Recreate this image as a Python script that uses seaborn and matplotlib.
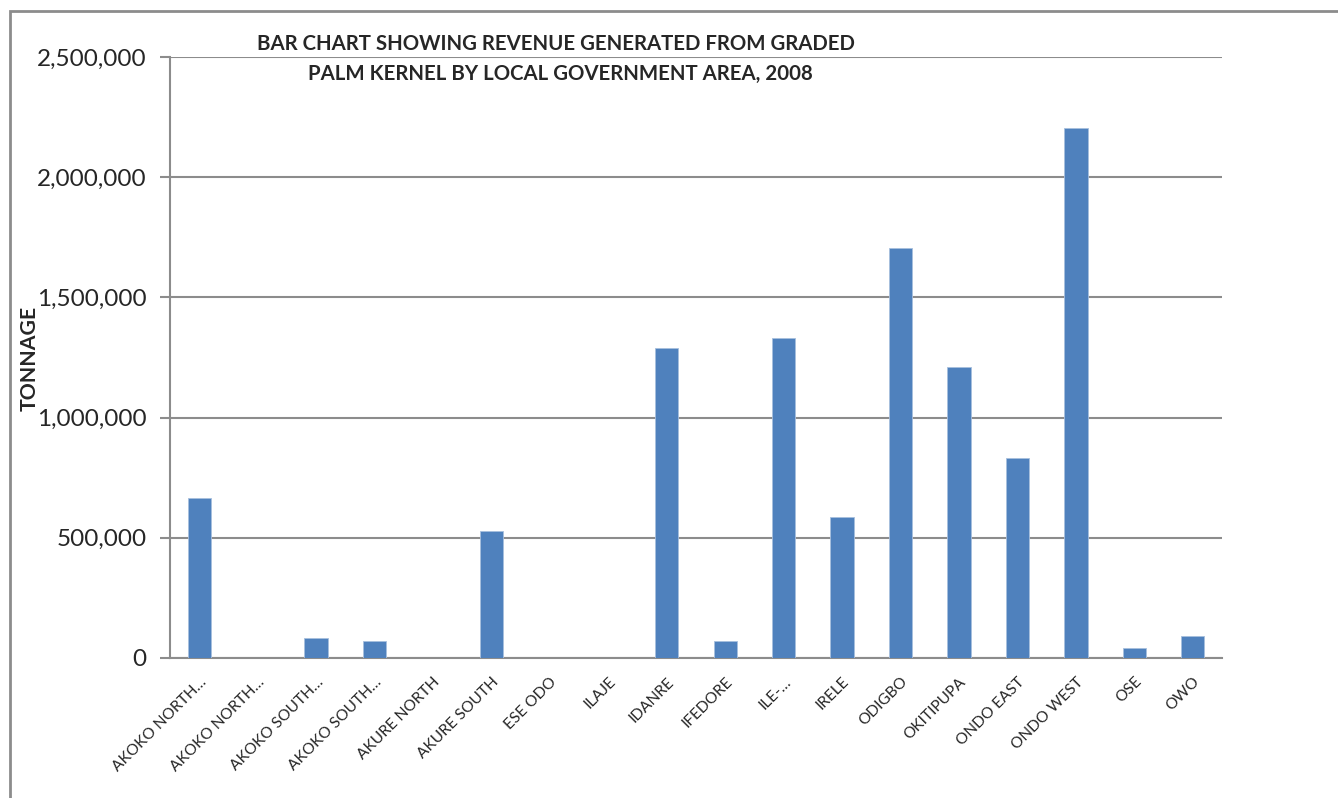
import matplotlib
matplotlib.use("Agg")
import matplotlib.pyplot as plt
import matplotlib.patches as mpatches
import matplotlib.transforms as mtransforms
from matplotlib.ticker import FuncFormatter, FixedLocator
import seaborn as sns
import pandas as pd
import numpy as np

categories = ["AKOKO NORTH…", "AKOKO NORTH…", "AKOKO SOUTH…", "AKOKO SOUTH…",
              "AKURE NORTH", "AKURE SOUTH", "ESE ODO", "ILAJE", "IDANRE",
              "IFEDORE", "ILE-…", "IRELE", "ODIGBO", "OKITIPUPA", "ONDO EAST",
              "ONDO WEST", "OSE", "OWO"]
values = [666000, 0, 82000, 70000, 0, 529000, 0, 0, 1288000, 70000,
          1333000, 587000, 1704000, 1212000, 833000, 2204000, 42000, 92000]
yticks = [0, 500000, 1000000, 1500000, 2000000, 2500000]
title_lines = ["BAR CHART SHOWING REVENUE GENERATED FROM GRADED",
               "PALM KERNEL BY LOCAL GOVERNMENT AREA, 2008"]
ylabel = "TONNAGE"

sns.set_theme(style="white")
plt.rcParams['font.family'] = ['Lato', 'DejaVu Sans']

df = pd.DataFrame({"pos": [str(i) for i in range(len(categories))], "value": values})

fig = plt.figure(figsize=(13.38, 7.98), dpi=100)
ax = fig.add_axes([170/1338, 1-658/798, (1222-170)/1338, (658-57)/798])

sns.barplot(data=df, x="pos", y="value", color="#4F81BD", width=0.4,
            edgecolor="#A7BFDE", linewidth=0.6, saturation=1, ax=ax, zorder=3)

ax.set_xlim(-0.5, len(categories) - 0.5)
ax.set_ylim(0, 2500000)
ax.set_yticks(yticks)
ax.yaxis.set_major_formatter(FuncFormatter(lambda v, p: f"{int(v):,}"))
ax.grid(axis="y", color="#8C8C8C", linewidth=1.5, zorder=0)
ax.grid(axis="x", visible=False)

ax.set_xticks(range(len(categories)))
ax.set_xticklabels(categories, rotation=45, ha="right", rotation_mode="anchor",
                   fontsize=11.2)
offset = mtransforms.ScaledTranslation(5/100, 0, fig.dpi_scale_trans)
for lbl in ax.get_xticklabels():
    lbl.set_transform(lbl.get_transform() + offset)
ax.xaxis.set_minor_locator(FixedLocator(np.arange(-0.5, len(categories), 1.0)))
ax.tick_params(axis="x", which="major", length=0, pad=12)
ax.tick_params(axis="x", which="minor", length=6, width=1.5, color="#8C8C8C")
ax.tick_params(axis="y", which="major", length=7, width=1.5, color="#8C8C8C",
               labelsize=17.5, pad=10, left=True)

for s in ["top", "right"]:
    ax.spines[s].set_visible(False)
for s in ["left", "bottom"]:
    ax.spines[s].set_color("#8C8C8C")
    ax.spines[s].set_linewidth(1.5)

ax.set_xlabel("")
ax.set_ylabel("")
fig.text(30/1338, 1-358/798, ylabel, rotation=90, ha="center", va="center",
         fontsize=15.3, fontweight="bold")
fig.text(556/1338, 1-44/798, title_lines[0], ha="center", va="center",
         fontsize=14.7, fontweight="bold")
fig.text(560/1338, 1-74/798, title_lines[1], ha="center", va="center",
         fontsize=14.7, fontweight="bold")

frame = mpatches.Rectangle((10/1338, -0.2), 1.2, 1.2 + (1-11/798) - 1,
                           transform=fig.transFigure, fill=False,
                           edgecolor="#8C8C8C", linewidth=2, clip_on=False)
fig.patches.append(frame)

fig.savefig("out.png", dpi=100)
